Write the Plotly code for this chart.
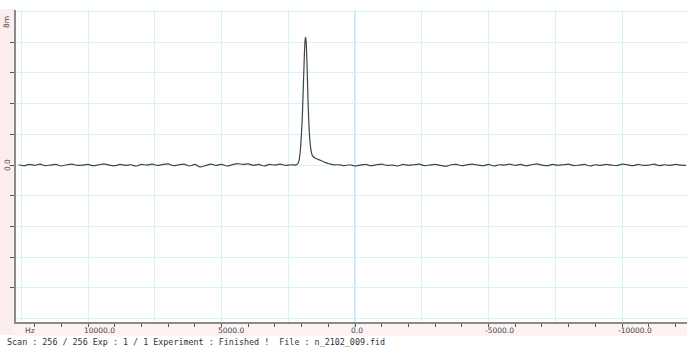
import plotly.graph_objects as go

# ---------------- data ----------------
# baseline left of the peak: 12600 Hz .. 2400 Hz, step 200 Hz
base_left_hz = list(range(12600, 2399, -200))
base_left_val = [0.01, -0.02, 0.02, -0.01, 0.03, -0.02, 0.00, 0.02, -0.03, 0.01,
                 0.03, -0.01, 0.00, 0.02, -0.02, 0.01, 0.04, 0.00, -0.02, 0.02,
                 -0.01, 0.01, -0.03, 0.02, 0.00, 0.03, -0.01, 0.02, 0.04, -0.02,
                 0.01, 0.03, -0.03, 0.02, -0.06, -0.02, 0.03, -0.01, 0.02, -0.03,
                 0.01, 0.05, 0.02, 0.04, -0.01, 0.02, -0.03, 0.02, 0.00, 0.03,
                 -0.01, 0.01]

# peak region
peak_hz = [2250, 2180, 2130, 2090, 2050, 2010, 1975, 1945, 1915, 1890, 1865,
           1845, 1825, 1800, 1775, 1750, 1720, 1690, 1660, 1630, 1600, 1560,
           1500, 1420, 1340, 1260, 1180, 1100, 1000, 900, 800]
peak_val = [0.00, 0.02, 0.06, 0.18, 0.45, 0.95, 1.55, 2.30, 3.10, 3.75, 4.10,
            4.17, 3.95, 3.35, 2.55, 1.85, 1.20, 0.80, 0.55, 0.40, 0.32, 0.27,
            0.23, 0.20, 0.17, 0.14, 0.11, 0.08, 0.05, 0.03, 0.01]

# baseline right of the peak: 600 Hz .. -12400 Hz, step 200 Hz
base_right_hz = list(range(600, -12401, -200))
base_right_val = [0.01, -0.02, 0.01, -0.03, 0.00, 0.02, -0.02, 0.01, 0.03, -0.01,
                  0.00, -0.03, 0.02, -0.01, 0.01, 0.03, -0.02, 0.00, 0.02, -0.01,
                  -0.04, 0.01, 0.02, -0.02, 0.01, 0.03, 0.00, -0.02, 0.02, -0.03,
                  0.01, 0.00, 0.03, -0.01, 0.02, -0.02, 0.01, 0.04, 0.00, -0.02,
                  0.02, -0.01, 0.01, 0.03, -0.02, 0.00, 0.02, -0.03, 0.01, -0.01,
                  0.02, 0.00, -0.02, 0.03, 0.01, -0.02, 0.02, -0.01, 0.00, 0.03,
                  -0.02, 0.01, -0.01, 0.02, 0.00, -0.01]

assert len(base_left_hz) == len(base_left_val)
assert len(peak_hz) == len(peak_val)
assert len(base_right_hz) == len(base_right_val)

x_label_vals = [10000, 5000, 0, -5000, -10000]
x_label_text = ["10000.0", "5000.0", "0.0", "-5000.0", "-10000.0"]
y_tick_vals = [-4, -3, -2, -1, 0, 1, 2, 3, 4]
status_text = "Scan : 256 / 256 Exp : 1 / 1 Experiment : Finished !  File : n_2102_009.fid"

hz = base_left_hz + peak_hz + base_right_hz
amp = base_left_val + peak_val + base_right_val

# ---------------- layout geometry ----------------
W, H = 687, 347
L, R, T, B = 16, 0, 10, 25
PW, PH = W - L - R, H - T - B


def px_x(px):
    return (px - L) / PW


def px_y(py):
    return (H - B - py) / PH


GRID = "#d6f3fa"
ZERO = "#7fd0f5"
FONT = "DejaVu Sans"

fig = go.Figure()
fig.add_trace(go.Scatter(x=hz, y=amp, mode="lines",
                         line=dict(color="#3f4448", width=1.2, shape="spline",
                                   smoothing=0.6),
                         hoverinfo="skip", showlegend=False))
# helper trace so the overlaying tick axes are drawn
fig.add_trace(go.Scatter(x=[], y=[], xaxis="x2", yaxis="y2", showlegend=False))

xr = [12697, -12434]
yr = [-5.11, 5.05]

fig.update_layout(
    width=W, height=H,
    margin=dict(l=L, r=R, t=T, b=B),
    paper_bgcolor="white", plot_bgcolor="white",
    showlegend=False,
    xaxis=dict(range=xr, tick0=0, dtick=2500, showgrid=True, gridcolor=GRID,
               gridwidth=1, zeroline=False,
               ticks="", showticklabels=False, showline=False),
    xaxis2=dict(range=xr, overlaying="x", anchor="y", side="bottom",
                tick0=0, dtick=1000, ticks="outside", ticklen=3, tickwidth=1,
                tickcolor="#555", showticklabels=False, showgrid=False,
                zeroline=False, showline=True, linecolor="#8a8a8a", linewidth=1.5),
    yaxis=dict(range=yr, tick0=0, dtick=1, showgrid=True, gridcolor=GRID,
               gridwidth=1, zeroline=False, ticks="",
               showticklabels=False, showline=False),
    yaxis2=dict(range=yr, overlaying="y", anchor="x", side="left",
                tickmode="array", tickvals=y_tick_vals, ticks="outside",
                ticklen=4, tickwidth=1, tickcolor="#555", showticklabels=False,
                showgrid=False, zeroline=False, showline=True,
                linecolor="#8a8a8a", linewidth=1.5),
)

# faint pink striped margins (screen artefact in the reference)
shapes = []
for py in range(10, 336, 2):
    shapes.append(dict(type="line", xref="paper", yref="paper",
                       x0=px_x(0), x1=px_x(14), y0=px_y(py), y1=px_y(py),
                       line=dict(color="#f9dcdc", width=1), layer="below"))
for py in range(325, 336, 2):
    shapes.append(dict(type="line", xref="paper", yref="paper",
                       x0=px_x(14), x1=px_x(W), y0=px_y(py), y1=px_y(py),
                       line=dict(color="#fbe6e6", width=1), layer="below"))
# brighter reference line at 0 Hz (axis origin)
shapes.append(dict(type="line", xref="x", yref="paper", x0=x_label_vals[2],
                   x1=x_label_vals[2], y0=px_y(328), y1=1,
                   line=dict(color=ZERO, width=1), layer="below"))
fig.update_layout(shapes=shapes)

ann = []
for v, t in zip(x_label_vals, x_label_text):
    ann.append(dict(x=v, xref="x", y=px_y(331), yref="paper", text=t,
                    showarrow=False, xanchor="left", yanchor="middle", xshift=-6,
                    font=dict(family=FONT, size=7.5, color="#444")))
ann.append(dict(x=px_x(30), xref="paper", y=px_y(331), yref="paper", text="Hz",
                showarrow=False, xanchor="center", yanchor="middle",
                font=dict(family=FONT, size=7.5, color="#444")))
ann.append(dict(x=px_x(7), xref="paper", y=0, yref="y", text="0.0",
                showarrow=False, textangle=-90, xanchor="center", yanchor="middle",
                font=dict(family=FONT, size=7.5, color="#444")))
ann.append(dict(x=px_x(7), xref="paper", y=4.66, yref="y", text="8m",
                showarrow=False, textangle=-90, xanchor="center", yanchor="middle",
                font=dict(family=FONT, size=7.5, color="#444")))
ann.append(dict(x=px_x(5), xref="paper", y=px_y(342), yref="paper", text=status_text,
                showarrow=False, xanchor="left", yanchor="middle",
                font=dict(family="DejaVu Sans Mono", size=8.4, color="#333")))
fig.update_layout(annotations=ann)

fig.write_html("out.html",
               config={"displayModeBar": False},
               post_script="document.body.style.margin='0';"
                           "document.body.style.overflow='hidden';")
